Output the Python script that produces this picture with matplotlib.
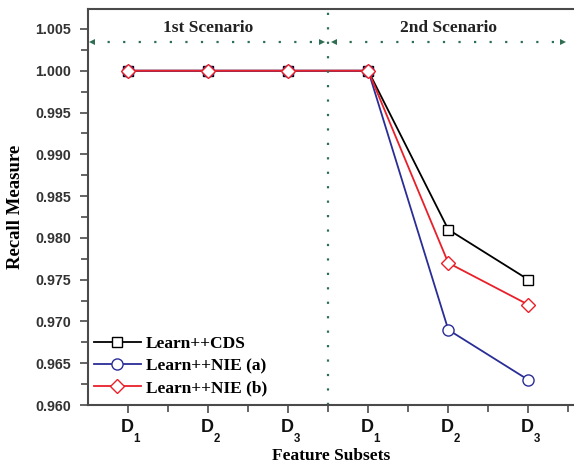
import numpy as np
import matplotlib.pyplot as plt
import matplotlib.transforms as mtransforms

# data
subsets = ['D', 'D', 'D', 'D', 'D', 'D']
subscripts = ['1', '2', '3', '1', '2', '3']
cds = [1.000, 1.000, 1.000, 1.000, 0.981, 0.975]
nie_a = [1.000, 1.000, 1.000, 1.000, 0.969, 0.963]
nie_b = [1.000, 1.000, 1.000, 1.000, 0.977, 0.972]
scenarios = ['1st Scenario', '2nd Scenario']

serif = 'Liberation Serif'
sans = 'Liberation Sans'
green = '#2f6e52'
spine_col = '#4a4a4a'

fig = plt.figure(figsize=(5.74, 4.68), dpi=100)
ax = fig.add_axes([0.1533, 0.1346, 0.8467, 0.8462])

x = np.arange(1, len(subsets) + 1)

ax.plot(x, cds, color='black', lw=1.3, marker='s', ms=7, mfc='white',
        mec='black', mew=1.0, label='Learn++CDS')
ax.plot(x, nie_a, color='#2a2d96', lw=1.3, marker='o', ms=8, mfc='white',
        mec='#2a2d96', mew=1.0, label='Learn++NIE (a)')
ax.plot(x, nie_b, color='#e8202a', lw=1.3, marker='D', ms=7, mfc='white',
        mec='#e8202a', mew=1.0, label='Learn++NIE (b)')

ax.set_xlim(0.5, 6.57)
ax.set_ylim(0.960, 1.00739)

# scenario separator and arrows
ax.axvline(3.5, color=green, ls=(0, (1, 5.5)), lw=1.6)
arrow_y = 1.00345
for x0, x1 in [(0.55, 3.42), (3.57, 6.43)]:
    ax.plot([x0, x1], [arrow_y, arrow_y], color=green, ls=(0, (1, 6)), lw=1.6)
    ax.plot([x0], [arrow_y], marker='<', color=green, ms=5, mew=0)
    ax.plot([x1], [arrow_y], marker='>', color=green, ms=5, mew=0)
ax.text(2, 1.0051, scenarios[0], ha='center', va='center',
        fontfamily=serif, fontweight='bold', fontsize=12.5, color='#222222')
ax.text(5, 1.0051, scenarios[1], ha='center', va='center',
        fontfamily=serif, fontweight='bold', fontsize=12.5, color='#222222')

# x tick labels: D with a subscript, drawn by hand
ax.set_xticks(x)
ax.set_xticklabels([''] * len(x))
ax.set_xticks(np.arange(1.5, 6.6, 1.0), minor=True)
trans = mtransforms.blended_transform_factory(ax.transData, ax.transAxes)
for xi, d, s in zip(x, subsets, subscripts):
    ax.annotate(d, xy=(xi, 0), xycoords=trans, xytext=(-0.5, -10),
                textcoords='offset points', ha='center', va='top',
                fontfamily=sans, fontweight='bold', fontsize=13, color='#111111')
    ax.annotate(s, xy=(xi, 0), xycoords=trans, xytext=(3.8, -20),
                textcoords='offset points', ha='left', va='top',
                fontfamily=sans, fontweight='bold', fontsize=8.3, color='#111111')

yt = np.arange(0.960, 1.0051, 0.005)
ax.set_yticks(yt)
ax.set_yticklabels(['%.3f' % v for v in yt], fontfamily=sans,
                   fontweight='bold', fontsize=10.3, color='#333333')
ax.set_yticks(np.arange(0.9625, 1.006, 0.005), minor=True)

ax.tick_params(axis='both', which='both', direction='out', color=spine_col,
               width=1.2)
ax.tick_params(axis='both', which='major', length=6)
ax.tick_params(axis='both', which='minor', length=5)
ax.tick_params(axis='y', which='major', pad=6)

for side in ['left', 'bottom', 'top']:
    ax.spines[side].set_color(spine_col)
    ax.spines[side].set_linewidth(1.5)
ax.spines['right'].set_visible(False)

ax.set_xlabel('Feature Subsets', fontfamily=serif, fontweight='bold',
              fontsize=12.5)
ax.xaxis.set_label_coords(0.5, -0.108)
ax.set_ylabel('Recall Measure', fontfamily=serif, fontweight='bold',
              fontsize=13.5, labelpad=8)

leg = ax.legend(loc='lower left', bbox_to_anchor=(-0.02, -0.018), frameon=False,
                handlelength=2.7, handletextpad=0.3, labelspacing=0.35,
                prop={'family': serif, 'weight': 'bold', 'size': 12.5})

fig.savefig('out.png', dpi=100)
